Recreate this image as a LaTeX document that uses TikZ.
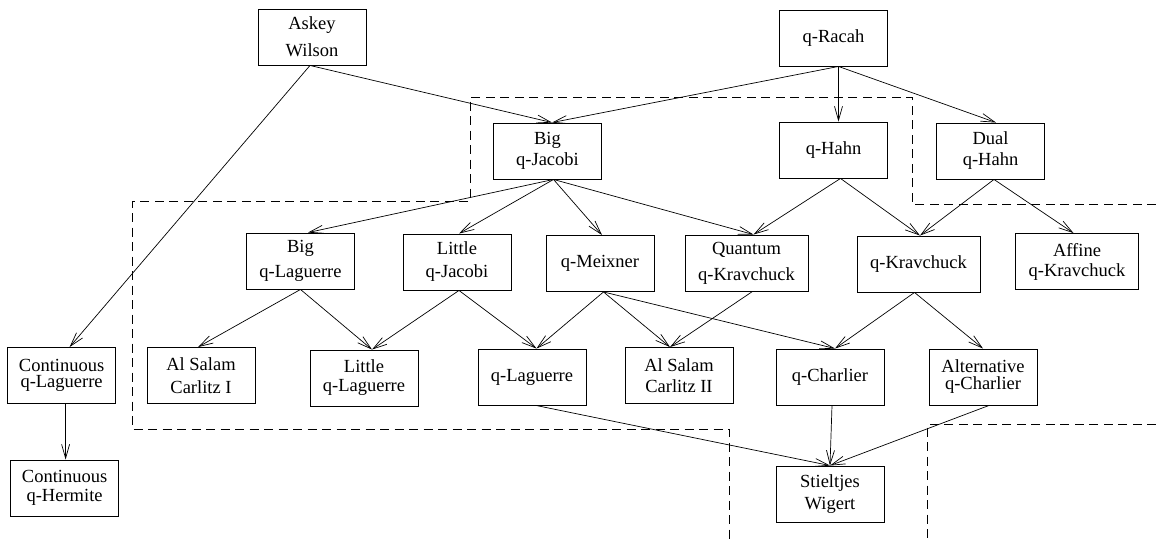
\documentclass[tikz,border=0pt]{standalone}
\usepackage{fontspec}
\setmainfont{Liberation Serif}
\usetikzlibrary{arrows.meta}
\begin{document}
\begin{tikzpicture}[x=1pt,y=-1pt,
  box/.style={draw, line width=0.9pt, minimum width=108pt, minimum height=56pt,
    inner sep=0pt, align=center, font=\fontsize{18.5}{21}\selectfont},
  wide/.style={minimum width=123pt},
  ls/.style={font=\fontsize{18.5}{#1}\selectfont},
  conn/.style={line width=0.7pt, -{Straight Barb[length=14pt,width=8pt]}},
  zone/.style={line width=0.8pt, dash pattern=on 9pt off 5.5pt}]
\useasboundingbox (0,0) rectangle (1156,539);
% nodes
\node[box, ls=27] (aw)   at (312,37)    {Askey\\Wilson};
\node[box]        (qr)   at (833.5,38)  {q-Racah};
\node[box]        (bqj)  at (547.5,151) {Big\\q-Jacobi};
\node[box]        (qh)   at (833.5,150) {q-Hahn};
\node[box]        (dqh)  at (990.5,151) {Dual\\q-Hahn};
\node[box, ls=25] (bql)  at (300.5,261) {Big\\q-Laguerre};
\node[box, ls=23] (lqj)  at (457,262)   {Little\\q-Jacobi};
\node[box]        (qm)   at (600,263.5) {q-Meixner};
\node[box, wide, ls=26] (qqk) at (746.5,263) {Quantum\\q-Kravchuck};
\node[box, wide]  (qk)   at (918.5,264) {q-Kravchuck};
\node[box, wide, ls=20] (aqk) at (1077,261.5) {Affine\\q-Kravchuck};
\node[box, ls=16.5] (cql) at (61.6,375.5) {Continuous\\q-Laguerre};
\node[box, ls=23] (asc1) at (201,375.5) {Al Salam\\Carlitz I};
\node[box, ls=19] (lql)  at (364,378)   {Little\\q-Laguerre};
\node[box]        (ql)   at (532,377)   {q-Laguerre};
\node[box, ls=21] (asc2) at (679,375.5) {Al Salam\\Carlitz II};
\node[box]        (qc)   at (830,377)   {q-Charlier};
\node[box, ls=17] (aqc)  at (983,377)   {Alternative\\q-Charlier};
\node[box, ls=19] (cqh)  at (64.6,488)  {Continuous\\q-Hermite};
\node[box, ls=22] (sw)   at (830,494)   {Stieltjes\\Wigert};
% dashed zones
\draw[zone] (1156,204) -- (912,204) -- (912,97) -- (470,97) -- (470,201)
  -- (132,201) -- (132,429) -- (729,429) -- (729,539);
\draw[zone] (1156,424) -- (927.5,424) -- (927.5,539);
% connectors
\draw[conn] ([xshift=-2pt]aw.south) -- ([xshift=4.5pt]bqj.north);
\draw[conn] ([xshift=-2pt]aw.south) -- ([xshift=8pt]cql.north);
\draw[conn] ([xshift=5pt]qr.south) -- ([xshift=4.5pt]bqj.north);
\draw[conn] ([xshift=5pt]qr.south) -- ([xshift=5pt]qh.north);
\draw[conn] ([xshift=5pt]qr.south) -- ([xshift=5.5pt]dqh.north);
\draw[conn] ([xshift=6pt]bqj.south) -- ([xshift=7.5pt]bql.north);
\draw[conn] ([xshift=6pt]bqj.south) -- ([xshift=2pt]lqj.north);
\draw[conn] ([xshift=6pt]bqj.south) -- ([xshift=2pt]qm.north);
\draw[conn] ([xshift=6pt]bqj.south) -- ([xshift=7pt]qqk.north);
\draw[conn] ([xshift=7pt]qh.south) -- ([xshift=7pt]qqk.north);
\draw[conn] ([xshift=7pt]qh.south) -- ([xshift=1.5pt]qk.north);
\draw[conn] ([xshift=3.5pt]dqh.south) -- ([xshift=1.5pt]qk.north);
\draw[conn] ([xshift=3.5pt]dqh.south) -- ([xshift=-3.5pt]aqk.north);
\draw[conn] (bql.south) -- ([xshift=-3pt]asc1.north);
\draw[conn] (bql.south) -- ([xshift=8pt]lql.north);
\draw[conn] ([xshift=2pt]lqj.south) -- ([xshift=8pt]lql.north);
\draw[conn] ([xshift=2pt]lqj.south) -- ([xshift=4.5pt]ql.north);
\draw[conn] ([xshift=3.5pt]qm.south) -- ([xshift=4.5pt]ql.north);
\draw[conn] ([xshift=3.5pt]qm.south) -- ([xshift=-9pt]asc2.north);
\draw[conn] ([xshift=3.5pt]qm.south) -- ([xshift=5pt]qc.north);
\draw[conn] ([xshift=6pt]qqk.south) -- ([xshift=-9pt]asc2.north);
\draw[conn] ([xshift=-4pt]qk.south) -- ([xshift=5pt]qc.north);
\draw[conn] ([xshift=-4pt]qk.south) -- (aqc.north);
\draw[conn] ([xshift=4pt]cql.south) -- ([xshift=1pt]cqh.north);
\draw[conn] ([xshift=4pt]ql.south) -- (sw.north);
\draw[conn] ([xshift=2pt]qc.south) -- (sw.north);
\draw[conn] ([xshift=6pt]aqc.south) -- (sw.north);
\end{tikzpicture}
\end{document}
